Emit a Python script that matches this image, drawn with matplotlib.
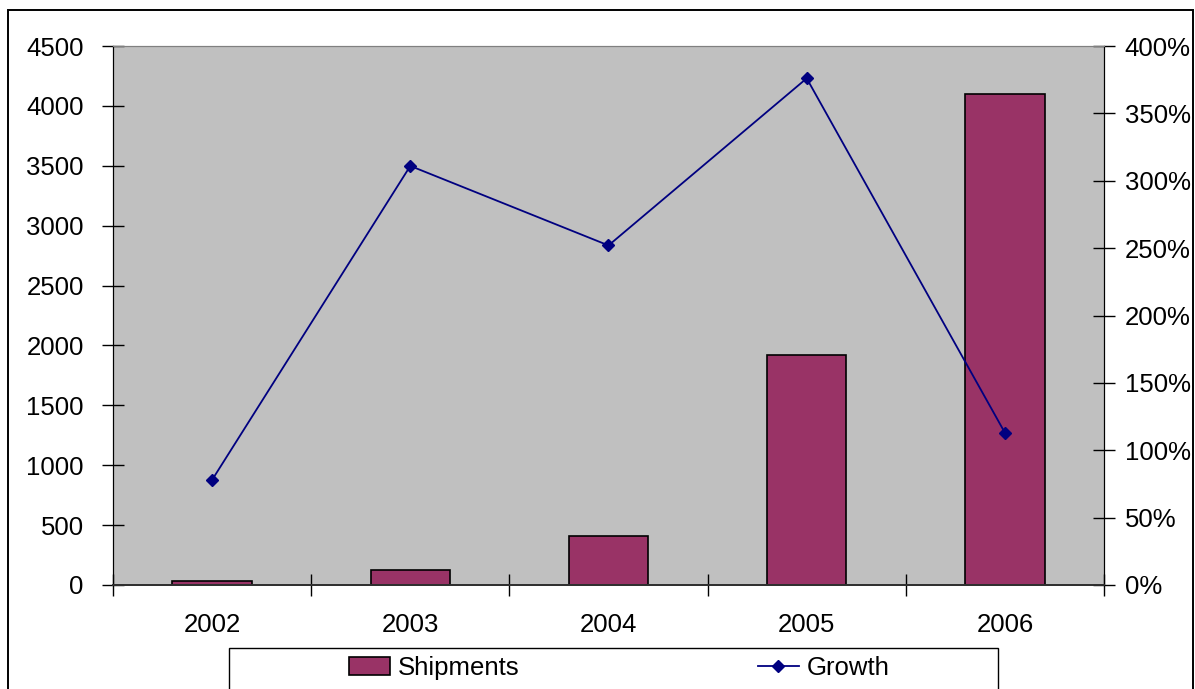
import matplotlib
matplotlib.use("Agg")
import matplotlib.pyplot as plt
from matplotlib.patches import Rectangle
from matplotlib.ticker import FuncFormatter, FixedLocator
import numpy as np

plt.rcParams['font.family'] = ['Liberation Sans', 'DejaVu Sans']

years = ["2002", "2003", "2004", "2005", "2006"]
shipments = [30, 125, 405, 1920, 4100]
growth = [78, 311, 252, 376, 113]  # percent

FS = 18.5
W, H = 1195, 689
fig = plt.figure(figsize=(W / 100, H / 100), dpi=100)

# outer chart border
fig.patches.append(Rectangle((8 / W, -0.05), (1193 - 8) / W, (H - 10) / H + 0.05,
                             transform=fig.transFigure, fill=False,
                             edgecolor="black", linewidth=1.4))

ax = fig.add_axes([113 / W, (H - 585) / H, (1104 - 113) / W, (585 - 46) / H])
ax.set_facecolor("#C0C0C0")
x = np.arange(len(years))
ax.bar(x, shipments, width=0.4, color="#993366", edgecolor="black",
       linewidth=1.2, zorder=2, label="Shipments")
ax.set_xlim(-0.5, len(years) - 0.5)
ax.set_ylim(0, 4500)
ax.set_yticks(np.arange(0, 4501, 500))
ax.set_xticks(x)
ax.set_xticklabels(years)
ax.xaxis.set_minor_locator(FixedLocator(np.arange(-0.5, len(years), 1.0)))
ax.tick_params(axis="x", which="major", length=0, pad=20, labelsize=FS)
ax.tick_params(axis="x", which="minor", length=16, direction="inout", width=1)
ax.tick_params(axis="y", length=16, direction="inout", width=1, pad=13, labelsize=FS)

ax2 = ax.twinx()
ax2.plot(x, growth, color="#000080", linewidth=1.3, marker="D", markersize=6.5,
         zorder=3, label="Growth")
ax2.set_ylim(0, 400)
ax2.set_yticks(np.arange(0, 401, 50))
ax2.yaxis.set_major_formatter(FuncFormatter(lambda v, p: f"{v:.0f}%"))
ax2.tick_params(axis="y", length=16, direction="inout", width=1, pad=7, labelsize=FS)

for a in (ax, ax2):
    a.spines["top"].set_color("#808080")
    a.spines["left"].set_color("black")
    a.spines["right"].set_color("black")
    a.spines["bottom"].set_color("#303030")
    a.spines["bottom"].set_linewidth(1.3)

# legend box
fig.patches.append(Rectangle((229 / W, -0.05), (998 - 229) / W, (H - 648) / H + 0.05,
                             transform=fig.transFigure, fill=False,
                             edgecolor="black", linewidth=1.0))
h1, l1 = ax.get_legend_handles_labels()
h2, l2 = ax2.get_legend_handles_labels()
fig.legend(h1 + h2, l1 + l2, loc="center left", bbox_to_anchor=(349 / W, (H - 668) / H),
           ncol=2, frameon=False, fontsize=FS, handlelength=1.6, handleheight=0.66,
           handletextpad=0.31, columnspacing=9.26, borderpad=0, borderaxespad=0)

fig.savefig("out.png", dpi=100)
